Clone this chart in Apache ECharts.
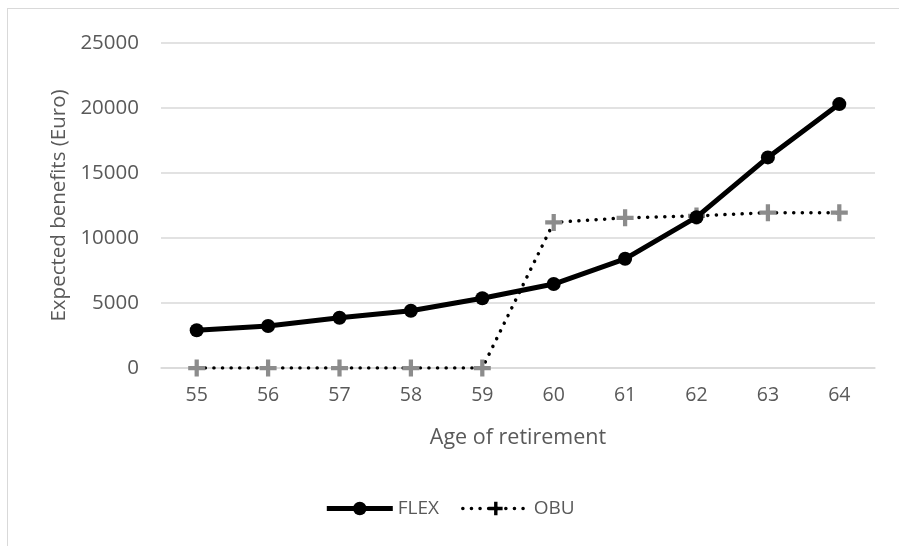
<!DOCTYPE html>
<html>
<head>
<meta charset="utf-8">
<script src="https://cdn.jsdelivr.net/npm/echarts@6/dist/echarts.min.js"></script>
<style>
html,body{margin:0;padding:0;background:#fff;overflow:hidden;}
#frame{position:absolute;left:7px;top:8px;width:1000px;height:1000px;border:1.5px solid #d9d9d9;box-sizing:border-box;}
#chart{position:absolute;left:0;top:0;width:899px;height:546px;}
</style>
</head>
<body>
<div id="frame"></div>
<div id="chart"></div>
<script>
const categories = ['55','56','57','58','59','60','61','62','63','64'];
const flexValues = [2900, 3230, 3860, 4400, 5370, 6460, 8400, 11600, 16200, 20300];
const obuValues = [0, 0, 0, 0, 0, 11200, 11550, 11700, 11950, 11950];
const yTicks = [0, 5000, 10000, 15000, 20000, 25000];

const textColor = '#595959';
const fontFamily = "'Open Sans', 'Liberation Sans', sans-serif";
const plusPath = 'path://M3,0 H5 V3 H8 V5 H5 V8 H3 V5 H0 V3 H3 Z';
const obuDash = [0.1, 8.5];

const chart = echarts.init(document.getElementById('chart'), null, {renderer: 'canvas'});
chart.setOption({
  animation: false,
  backgroundColor: 'transparent',
  textStyle: {fontFamily: fontFamily, color: textColor},
  grid: {left: 161, right: 24, top: 43, bottom: 178, containLabel: false},
  legend: {
    bottom: 23,
    left: 'center',
    itemWidth: 66,
    itemHeight: 17,
    itemGap: 22,
    textStyle: {fontFamily: fontFamily, fontSize: 19, color: textColor},
    data: [
      {name: 'FLEX', lineStyle: {width: 5, color: '#000'}, itemStyle: {color: '#000'}},
      {name: 'OBU', lineStyle: {width: 3.5, color: '#000', type: obuDash, cap: 'round'}, itemStyle: {color: '#000'}}
    ]
  },
  xAxis: {
    type: 'category',
    data: categories,
    boundaryGap: true,
    name: 'Age of retirement',
    nameLocation: 'middle',
    nameGap: 59,
    nameTextStyle: {fontFamily: fontFamily, fontSize: 21.5, color: textColor},
    axisLine: {show: true, lineStyle: {color: '#d9d9d9', width: 1.5}},
    axisTick: {show: false},
    axisLabel: {fontFamily: fontFamily, fontSize: 19.5, color: textColor, margin: 17}
  },
  yAxis: {
    type: 'value',
    min: yTicks[0],
    max: yTicks[yTicks.length - 1],
    interval: yTicks[1] - yTicks[0],
    name: 'Expected benefits (Euro)',
    nameLocation: 'middle',
    nameGap: 86,
    nameTextStyle: {fontFamily: fontFamily, fontSize: 20.5, color: textColor},
    axisLine: {show: false},
    axisTick: {show: false},
    axisLabel: {fontFamily: fontFamily, fontSize: 20.5, color: textColor, margin: 22, formatter: function (v) { return String(v); }},
    splitLine: {lineStyle: {color: '#d9d9d9', width: 1.5}}
  },
  series: [
    {
      name: 'FLEX',
      type: 'line',
      data: flexValues,
      symbol: 'circle',
      symbolSize: 14,
      itemStyle: {color: '#000'},
      lineStyle: {color: '#000', width: 5},
      z: 3
    },
    {
      name: 'OBU',
      type: 'line',
      data: obuValues,
      symbol: plusPath,
      symbolSize: 17,
      itemStyle: {color: '#8c8c8c'},
      lineStyle: {color: '#000', width: 3.5, type: obuDash, cap: 'round'},
      z: 2
    }
  ]
});
</script>
</body>
</html>
